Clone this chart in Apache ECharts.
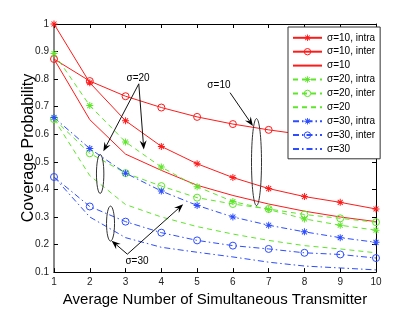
<!DOCTYPE html>
<html><head><meta charset="utf-8">
<script src="https://cdn.jsdelivr.net/npm/echarts@6/dist/echarts.min.js"></script>
<style>html,body{margin:0;padding:0;background:#fff}#c{width:415px;height:312px}</style>
</head><body><div id="c"></div><script>
// ---- data ----
const xValues = [1, 2, 3, 4, 5, 6, 7, 8, 9, 10];
const s10Intra  = [1.000, 0.787, 0.649, 0.556, 0.493, 0.443, 0.403, 0.374, 0.353, 0.329];
const s10Inter  = [0.873, 0.793, 0.738, 0.697, 0.663, 0.637, 0.616, 0.598, 0.582, 0.566];
const s10Theory = [0.873, 0.653, 0.528, 0.469, 0.415, 0.378, 0.347, 0.321, 0.300, 0.283];
const s20Intra  = [0.893, 0.704, 0.572, 0.481, 0.410, 0.356, 0.327, 0.293, 0.270, 0.252];
const s20Inter  = [0.655, 0.531, 0.459, 0.412, 0.370, 0.347, 0.329, 0.309, 0.295, 0.281];
const s20Theory = [0.655, 0.450, 0.345, 0.300, 0.265, 0.238, 0.215, 0.196, 0.184, 0.170];
const s30Intra  = [0.661, 0.548, 0.459, 0.394, 0.342, 0.300, 0.270, 0.246, 0.225, 0.208];
const s30Inter  = [0.445, 0.338, 0.283, 0.243, 0.215, 0.196, 0.184, 0.170, 0.164, 0.151];
const s30Theory = [0.445, 0.300, 0.225, 0.190, 0.172, 0.155, 0.136, 0.122, 0.115, 0.108];
const seriesNames = ['σ=10, intra','σ=10, inter','σ=10','σ=20, intra','σ=20, inter','σ=20','σ=30, intra','σ=30, inter','σ=30'];

const FONT = 'Liberation Sans, Arial, Helvetica, sans-serif';
const RED = '#ff1a1a', GREEN = '#5ee62a', BLUE = '#2d4dff';
const DASH = [5, 4], DASHDOT = [6, 3, 1.5, 3];
const STAR = 'path://M0 4.3L10 4.3L10 5.7L0 5.7Z M4.3 0L5.7 0L5.7 10L4.3 10Z M0.969 1.959L1.959 0.969L9.031 8.041L8.041 9.031Z M0.969 8.041L8.041 0.969L9.031 1.959L1.959 9.031Z';
const CLEAR = 'rgba(255,255,255,0)';

function pairs(vals) { return xValues.map((x, i) => [x, vals[i]]); }
const legendItems = [];
function mk(name, vals, color, type, marker) {
  const s = {
    name, type: 'line', data: pairs(vals), animation: false, silent: true,
    lineStyle: { color, width: 1, type },
    itemStyle: { color },
    symbolKeepAspect: true
  };
  let li = { name };
  if (marker === 'star') { s.symbol = STAR; s.symbolSize = 7; }
  else if (marker === 'circle') {
    s.symbol = 'circle'; s.symbolSize = 7;
    s.itemStyle = { color: CLEAR, borderColor: color, borderWidth: 1 };
    li.itemStyle = { color: CLEAR, borderColor: color, borderWidth: 1 };
  } else {
    s.symbol = 'circle'; s.showSymbol = false; s.itemStyle = { color: CLEAR };
    li.itemStyle = { color: CLEAR, borderWidth: 0 };
  }
  legendItems.push(li);
  return s;
}
const series = [
  mk(seriesNames[0], s10Intra, RED, 'solid', 'star'),
  mk(seriesNames[1], s10Inter, RED, 'solid', 'circle'),
  mk(seriesNames[2], s10Theory, RED, 'solid', null),
  mk(seriesNames[3], s20Intra, GREEN, DASH, 'star'),
  mk(seriesNames[4], s20Inter, GREEN, DASH, 'circle'),
  mk(seriesNames[5], s20Theory, GREEN, DASH, null),
  mk(seriesNames[6], s30Intra, BLUE, DASHDOT, 'star'),
  mk(seriesNames[7], s30Inter, BLUE, DASHDOT, 'circle'),
  mk(seriesNames[8], s30Theory, BLUE, DASHDOT, null)
];

function xAx(pos, main) {
  return {
    type: 'value', min: 1, max: 10, interval: 1, position: pos,
    axisLine: { show: true, onZero: false, lineStyle: { color: '#000', width: 1 } },
    axisTick: { show: true, inside: true, length: 4, lineStyle: { color: '#000' } },
    axisLabel: { show: main, color: '#222', fontSize: 10, margin: 5, fontFamily: FONT },
    splitLine: { show: false },
    name: main ? 'Average Number of Simultaneous Transmitter' : '',
    nameLocation: 'middle', nameGap: 14,
    nameTextStyle: { fontSize: 15, color: '#000', fontFamily: FONT }
  };
}
function yAx(pos, main) {
  return {
    type: 'value', min: 0.1, max: 1, interval: 0.1, position: pos,
    axisLine: { show: true, onZero: false, lineStyle: main ? { color: '#888', width: 2 } : { color: '#000', width: 1 } },
    axisTick: { show: true, inside: true, length: 4, lineStyle: { color: '#000' } },
    axisLabel: { show: main, color: '#222', fontSize: 10, margin: 5, fontFamily: FONT },
    splitLine: { show: false },
    name: main ? 'Coverage Probability' : '',
    nameLocation: 'middle', nameGap: 17, nameMoveOverlap: false,
    nameTextStyle: { fontSize: 16, color: '#000', fontFamily: FONT }
  };
}

const chart = echarts.init(document.getElementById('c'), null, { renderer: 'canvas' });
chart.setOption({
  backgroundColor: '#fff',
  animation: false,
  grid: { left: 54, right: 39, top: 24, bottom: 35 },
  xAxis: [xAx('bottom', true), xAx('top', false)],
  yAxis: [yAx('left', true), yAx('right', false)],
  legend: {
    data: legendItems, orient: 'vertical', left: 288, top: 27,
    padding: [4, 5, 3, 4], itemWidth: 29, itemHeight: 8, itemGap: 0.3,
    backgroundColor: '#fff', borderColor: '#333', borderWidth: 1, borderRadius: 0,
    textStyle: { fontSize: 10, color: '#000', fontFamily: FONT, lineHeight: 13.6 },
    selectedMode: false
  },
  series
});

// ---- annotations (positioned in data coordinates) ----
const labels = [ { t: 'σ=10', n: 5.61, v: 0.776 }, { t: 'σ=20', n: 3.35, v: 0.805 }, { t: 'σ=30', n: 3.32, v: 0.140 } ];
const ellipses = [ { n: 6.66, v: 0.499, rx: 5, ry: 43.5 }, { n: 2.29, v: 0.456, rx: 3.7, ry: 19.5 }, { n: 2.58, v: 0.276, rx: 4, ry: 17.5 } ];
const arrows = [
  { from: [5.92, 0.751], to: [6.56, 0.630] },
  { from: [3.37, 0.783], to: [2.38, 0.538] },
  { from: [3.37, 0.783], to: [3.51, 0.545] },
  { from: [3.05, 0.165], to: [2.61, 0.214] },
  { from: [3.05, 0.165], to: [4.61, 0.346] }
];
function px(p) { return chart.convertToPixel({ xAxisIndex: 0, yAxisIndex: 0 }, p); }
const g = [];
ellipses.forEach(e => {
  const c = px([e.n, e.v]);
  g.push({ type: 'ellipse', shape: { cx: c[0], cy: c[1], rx: e.rx, ry: e.ry }, style: { fill: 'none', stroke: '#333', lineWidth: 1 }, z: 100 });
});
arrows.forEach(a => {
  const p1 = px(a.from), p2 = px(a.to);
  const dx = p2[0] - p1[0], dy = p2[1] - p1[1], len = Math.hypot(dx, dy);
  const ux = dx / len, uy = dy / len, nx = -uy, ny = ux;
  const L = 9, W = 3.5;
  const bx = p2[0] - ux * L, by = p2[1] - uy * L;
  const mx = p2[0] - ux * L * 0.65, my = p2[1] - uy * L * 0.65;
  g.push({ type: 'line', shape: { x1: p1[0], y1: p1[1], x2: mx, y2: my }, style: { stroke: '#111', lineWidth: 1 }, z: 100 });
  g.push({ type: 'polygon', shape: { points: [[p2[0], p2[1]], [bx + nx * W, by + ny * W], [mx, my], [bx - nx * W, by - ny * W]] }, style: { fill: '#000' }, z: 100 });
});
labels.forEach(l => {
  const c = px([l.n, l.v]);
  g.push({ type: 'text', x: c[0], y: c[1], style: { text: l.t, fill: '#000', font: '10px ' + FONT, align: 'center', verticalAlign: 'middle' }, z: 101 });
});
chart.setOption({ graphic: g });
</script></body></html>
